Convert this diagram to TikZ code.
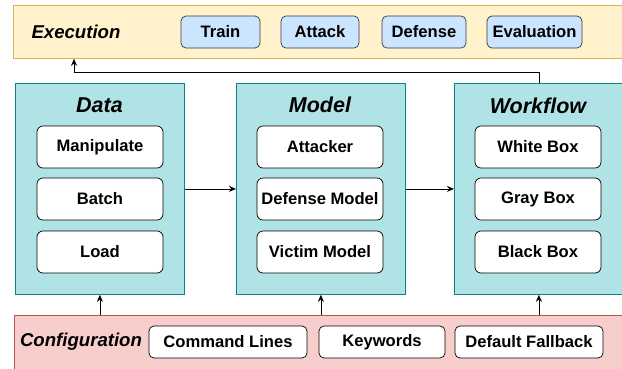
\documentclass[tikz,border=0pt]{standalone}
\usepackage{fontspec}
\setmainfont{Liberation Sans}
\usetikzlibrary{arrows.meta}

\definecolor{execfill}{HTML}{FFF2CC}
\definecolor{execline}{HTML}{D6B656}
\definecolor{conffill}{HTML}{F8CECC}
\definecolor{confline}{HTML}{B85450}
\definecolor{modfill}{HTML}{B0E3E6}
\definecolor{modline}{HTML}{0E8088}
\definecolor{stagefill}{HTML}{CCE5FF}
\definecolor{stageline}{HTML}{36393D}

\tikzset{
  band/.style={draw, anchor=north west, inner sep=0pt, line width=0.8pt},
  module/.style={draw=modline, fill=modfill, anchor=north west, inner sep=0pt,
    minimum width=169pt, minimum height=211pt, line width=0.8pt},
  part/.style={draw, fill=white, rounded corners=6pt, inner sep=0pt,
    minimum width=126pt, minimum height=42pt, line width=0.7pt,
    font=\fontsize{16.6}{19}\selectfont\bfseries},
  stage/.style={draw=stageline, fill=stagefill, rounded corners=5pt, inner sep=0pt,
    minimum height=32pt, line width=0.7pt,
    font=\fontsize{16.6}{19}\selectfont\bfseries},
  option/.style={draw, fill=white, rounded corners=5pt, inner sep=0pt,
    minimum height=32pt, line width=0.7pt,
    font=\fontsize{16.6}{19}\selectfont\bfseries},
  modtitle/.style={font=\fontsize{21.5}{25}\selectfont\bfseries\itshape},
  bandtitle/.style={font=\fontsize{18.6}{22}\selectfont\bfseries\itshape},
  conn/.style={-{Stealth[length=7pt,width=6pt]}, line width=0.8pt},
}

\begin{document}
\begin{tikzpicture}[x=1pt, y=-1pt]
\useasboundingbox (0,0) rectangle (622,368);

% execution layer on top
\node[band, draw=execline, fill=execfill, minimum width=640pt, minimum height=53pt] (exec) at (13,5) {};
\node[bandtitle] (exectitle) at (76,32) {Execution};
\node[stage, minimum width=79pt] (train) at (220.5,32) {Train};
\node[stage, minimum width=78pt] (attack) at (320,32) {Attack};
\node[stage, minimum width=84pt] (defense) at (424,32) {Defense};
\node[stage, minimum width=95pt] (eval) at (534.5,32) {Evaluation};

% the three modules
\node[module] (data) at (15,83) {};
\node[modtitle] at (99.5,105) {Data};
\node[part] (manip) at (100,147) {Manipulate};
\node[part] (batch) at (100,199) {Batch};
\node[part] (load) at (100,252) {Load};

\node[module] (model) at (236,83) {};
\node[modtitle] at (320,105) {Model};
\node[part] (attacker) at (320,147) {Attacker};
\node[part] (defmodel) at (320,199) {Defense Model};
\node[part] (victim) at (320,252) {Victim Model};

\node[module] (flow) at (454,83) {};
\node[modtitle] at (538,106) {Workflow};
\node[part] (white) at (538,147) {White Box};
\node[part] (gray) at (538,199) {Gray Box};
\node[part] (black) at (538,252) {Black Box};

% configuration layer at the bottom
\node[band, draw=confline, fill=conffill, minimum width=640pt, minimum height=70pt] (config) at (14,315) {};
\node[bandtitle] (conftitle) at (81,342) {Configuration};
\node[option, minimum width=158pt] (cmd) at (228,342) {Command Lines};
\node[option, minimum width=126pt] (keys) at (382,342) {Keywords};
\node[option, minimum width=148pt] (fallback) at (529,342) {Default Fallback};

\draw[conn] (data) -- (model);
\draw[conn] (model) -- (flow);
\draw[conn] (data.south |- config.north) -- (data.south);
\draw[conn] (model.south |- config.north) -- (model.south);
\draw[conn] (flow.south |- config.north) -- (flow.south);

\coordinate (bend) at (74,72);
\draw[conn] (flow.north) |- (bend) -- (bend |- exec.south);
\end{tikzpicture}
\end{document}
